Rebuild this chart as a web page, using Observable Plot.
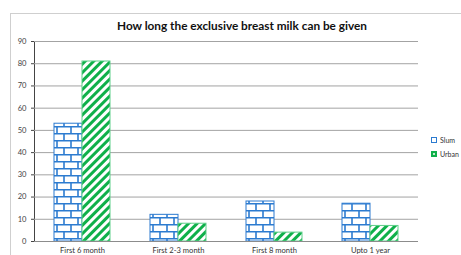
<!DOCTYPE html>
<html><head>
<meta charset="utf-8">
<script src="https://cdn.jsdelivr.net/npm/d3@7"></script>
<script src="https://cdn.jsdelivr.net/npm/@observablehq/plot@0.6"></script>
<style>
body{margin:0;background:#fff;font-family:Lato,"Open Sans",sans-serif;}
#wrap{position:relative;width:461px;height:255px;overflow:hidden;background:#fff}
#frame{position:absolute;left:10px;top:13px;width:470px;height:270px;border:1px solid #cfcfcf;}
#title{position:absolute;left:0;top:18px;width:484px;text-align:center;font-weight:bold;font-size:11.8px;color:#111;}
#chart{position:absolute;left:0;top:0;}
#legend{position:absolute;left:431px;top:133px;font-size:7px;color:#333;line-height:14px}
#legend div{display:flex;align-items:center;height:14px}
#legend svg{margin-right:3px}
</style>
</head><body>
<svg width="0" height="0" style="position:absolute">
  <defs>
    <pattern id="brick" patternUnits="userSpaceOnUse" width="14" height="14">
      <rect width="14" height="14" fill="#fff"/>
      <path d="M0 0.75H14M0 7.75H14M1 0V7M8 7V14" stroke="#2c7bd0" stroke-width="1.6" fill="none"/>
    </pattern>
    <pattern id="stripe" patternUnits="userSpaceOnUse" width="6" height="6" patternTransform="rotate(45)">
      <rect width="6" height="6" fill="#fff"/>
      <rect width="3" height="6" fill="#0fb04a"/>
    </pattern>
  </defs>
</svg>
<div id="wrap">
  <div id="frame"></div>
  <div id="chart"></div>
  <div id="title">How long the exclusive breast milk can be given</div>
  <div id="legend"></div>
</div>
<script>
const categories = ["First 6 month", "First 2-3 month", "First 8 month", "Upto 1 year"];
const series = ["Slum", "Urban"];
const slumValues = [53, 12, 18, 17];
const urbanValues = [81, 8, 4, 7];
const yTicks = [0, 10, 20, 30, 40, 50, 60, 70, 80, 90];

const slumData = categories.map((c, i) => ({category: c, series: "Slum", value: slumValues[i]}));
const urbanData = categories.map((c, i) => ({category: c, series: "Urban", value: urbanValues[i]}));

const chart = Plot.plot({
  width: 461,
  height: 255,
  marginLeft: 34,
  marginRight: 43,
  marginTop: 41,
  marginBottom: 14,
  style: {fontFamily: "Lato, 'Open Sans', sans-serif", fontSize: "7.6px", background: "transparent", color: "#444"},
  fx: {domain: categories, padding: 0, label: null, axis: null},
  x: {domain: series, axis: null, paddingInner: 0, paddingOuter: 0.714},
  y: {domain: [0, 90], ticks: yTicks, label: null, tickSize: 3, tickPadding: 5, line: true},
  marks: [
    Plot.ruleY(yTicks.slice(1), {stroke: "#a3a3a3", strokeWidth: 1}),
    Plot.barY(slumData, {fx: "category", x: "series", y: "value", fill: "url(#brick)", stroke: "#2c7bd0", strokeWidth: 1}),
    Plot.barY(urbanData, {fx: "category", x: "series", y: "value", fill: "url(#stripe)", stroke: "#5fcf8a", strokeWidth: 1}),
    Plot.axisFx({anchor: "bottom", tickSize: 0, tickPadding: 6, label: null, fill: "#333"}),
    Plot.ruleY([0], {stroke: "#8c8c8c"})
  ]
});
document.getElementById("chart").appendChild(chart);

const legend = document.getElementById("legend");
series.forEach(s => {
  const row = document.createElement("div");
  const sw = s === "Slum"
    ? '<svg width="6" height="6"><rect x="0.5" y="0.5" width="5" height="5" fill="#fff" stroke="#2c7bd0"/></svg>'
    : '<svg width="6" height="6"><rect x="0" y="0" width="6" height="6" fill="#0fb04a"/><rect x="2" y="2" width="2" height="2" fill="#bfeccb"/></svg>';
  row.innerHTML = sw + "<span>" + s + "</span>";
  legend.appendChild(row);
});
</script>
</body></html>
